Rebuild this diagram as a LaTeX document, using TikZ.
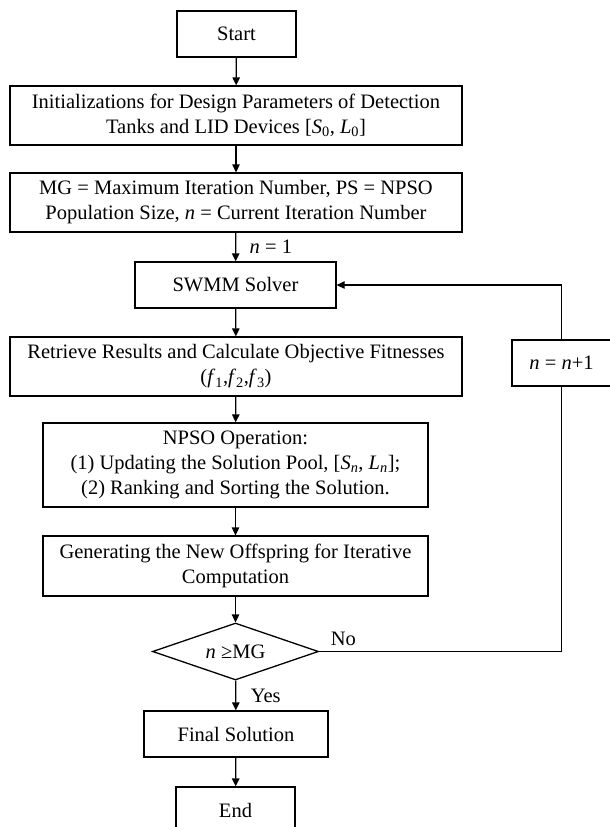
\documentclass[tikz,border=0pt]{standalone}
\usepackage{fontspec}
\setmainfont{Liberation Serif}
\usetikzlibrary{arrows.meta,shapes.geometric}
\newcommand{\varn}{\textit{n}}

\begin{document}
\begin{tikzpicture}[x=1pt,y=-1pt,
    font=\fontsize{20.5}{25}\selectfont,
    box/.style={draw,line width=1.3pt,align=center,inner sep=2pt},
    arr/.style={line width=1.3pt,-{Triangle[length=8pt,width=7.5pt]}},
    link/.style={line width=1.3pt}]
  \useasboundingbox (0,0) rectangle (610,827);

  % main column
  \node[box,minimum width=119pt,minimum height=46pt] (start) at (236.5,34) {Start};
  \node[box,minimum width=452pt,minimum height=59pt] (init) at (236,115.5)
    {Initializations for Design Parameters of Detection\\Tanks and LID Devices [\textit{S}\textsubscript{0}, \textit{L}\textsubscript{0}]};
  \node[box,minimum width=452pt,minimum height=59pt] (param) at (236,202.5)
    {MG = Maximum Iteration Number, PS = NPSO\\Population Size, \varn{} = Current Iteration Number};
  \node[box,minimum width=201pt,minimum height=46pt] (solver) at (235.5,285) {SWMM Solver};
  \node[box,minimum width=452pt,minimum height=59pt] (retrieve) at (236,366.5)
    {Retrieve Results and Calculate Objective Fitnesses\\(\textit{f}\textsubscript{1},\textit{f}\textsubscript{2},\textit{f}\textsubscript{3})};
  \node[box,minimum width=385pt,minimum height=84pt] (npso) at (235.5,465)
    {NPSO Operation:\\(1) Updating the Solution Pool, [\textit{S}\textsubscript{\textit{n}}, \textit{L}\textsubscript{\textit{n}}];\\(2) Ranking and Sorting the Solution.};
  \node[box,minimum width=385pt,minimum height=60pt] (offspring) at (235.5,566)
    {Generating the New Offspring for Iterative\\Computation};
  \node[draw,line width=1.3pt,diamond,aspect=2.9,inner sep=0pt,
    minimum width=166pt,minimum height=57pt] (check) at (235.5,651.5) {\varn{} ≥MG};
  \node[box,minimum width=184pt,minimum height=46pt] (final) at (236,734) {Final Solution};
  \node[box,minimum width=119pt,minimum height=46pt] (stop) at (235.5,810) {End};

  % loop counter
  \node[box,minimum width=99pt,minimum height=46pt] (incr) at (561.5,363) {\varn{} = \varn+1};

  % arrows
  \draw[arr] (start) -- (init);
  \draw[arr] (init) -- (param);
  \draw[arr] (param) -- node[right=10pt] {\varn{} = 1} (solver);
  \draw[arr] (solver) -- (retrieve);
  \draw[arr] (retrieve) -- (npso);
  \draw[arr] (npso) -- (offspring);
  \draw[arr] (offspring) -- (check);
  \draw[arr] (check) -- node[right=11pt] {Yes} (final);
  \draw[arr] (final) -- (stop);

  % feedback
  \draw[link] (check.east) -| node[pos=0.05,above=2pt] {No} (incr.south);
  \draw[arr] (incr.north) |- (solver.east);
\end{tikzpicture}
\end{document}
